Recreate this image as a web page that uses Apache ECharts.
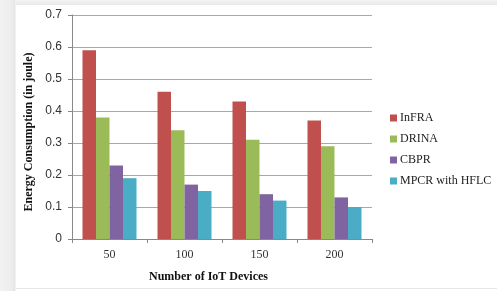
<!DOCTYPE html>
<html>
<head>
<meta charset="utf-8">
<script src="https://cdn.jsdelivr.net/npm/echarts@6/dist/echarts.min.js"></script>
<style>
  html, body { margin: 0; padding: 0; }
  body {
    width: 497px; height: 291px; overflow: hidden;
    background: linear-gradient(to right, #f2f2f2 0px, #ececec 12px, #e4e4e4 15px, #ffffff 16px);
    position: relative;
  }
  .frame {
    position: absolute; left: 16px; top: 5px; width: 481px; height: 283px;
    background: #fff; border-bottom: 1px solid #e6e6e6;
  }
  .frame::before {
    content: ''; position: absolute; left: 0; right: 0; top: -5px; height: 5px;
    background: linear-gradient(to bottom, #f4f4f4, #e8e8e8);
  }
  #chart { position: absolute; left: 0; top: 0; width: 497px; height: 291px; }
</style>
</head>
<body>
<div class="frame"></div>
<div id="chart"></div>
<script>
const categories = ['50', '100', '150', '200'];
const infra = [0.59, 0.46, 0.43, 0.37];
const drina = [0.38, 0.34, 0.31, 0.29];
const cbpr = [0.23, 0.17, 0.14, 0.13];
const mpcr = [0.19, 0.15, 0.12, 0.10];
const yTicks = [0, 0.1, 0.2, 0.3, 0.4, 0.5, 0.6, 0.7];

const serif = '"Liberation Serif", "DejaVu Serif", serif';
const sans = '"Liberation Sans", Arial, sans-serif';

const chart = echarts.init(document.getElementById('chart'));

function bar(name, data, color) {
  return {
    name: name,
    type: 'bar',
    data: data,
    barWidth: 13.5,
    barGap: '0%',
    itemStyle: {color: color},
  };
}

chart.setOption({
  animation: false,
  backgroundColor: 'transparent',
  grid: {left: 72, right: 125, top: 15, bottom: 52},
  legend: {
    orient: 'vertical',
    left: 390,
    top: 111,
    padding: 0,
    itemWidth: 7,
    itemHeight: 7,
    itemGap: 7,
    icon: 'rect',
    textStyle: {fontFamily: serif, fontSize: 12, lineHeight: 14, color: '#222', padding: [0, 0, 0, -2]},
    data: ['InFRA', 'DRINA', 'CBPR', 'MPCR with HFLC'],
  },
  xAxis: {
    type: 'category',
    data: categories,
    name: 'Number of IoT Devices',
    nameLocation: 'middle',
    nameGap: 32,
    nameTextStyle: {fontFamily: serif, fontSize: 12, fontWeight: 'bold', color: '#111', padding: [0, 27, 0, 0]},
    axisLine: {lineStyle: {color: '#888'}},
    axisTick: {show: true, length: 4, lineStyle: {color: '#888'}},
    axisLabel: {fontFamily: serif, fontSize: 12, color: '#333', margin: 10},
  },
  yAxis: {
    type: 'value',
    min: 0,
    max: 0.7,
    interval: 0.1,
    name: 'Energy Consumption (in joule)',
    nameLocation: 'middle',
    nameGap: 37,
    nameRotate: 90,
    nameTextStyle: {fontFamily: serif, fontSize: 12, fontWeight: 'bold', color: '#111', padding: [0, 10, 0, 0]},
    axisLine: {show: true, lineStyle: {color: '#888'}},
    axisTick: {show: true, length: 4, lineStyle: {color: '#888'}},
    splitLine: {lineStyle: {color: '#a8a8a8'}},
    axisLabel: {
      fontFamily: sans, fontSize: 12, color: '#333', margin: 10,
      formatter: v => yTicks.includes(Math.round(v * 10) / 10) ? String(Math.round(v * 10) / 10) : '',
    },
  },
  series: [
    bar('InFRA', infra, '#c0504d'),
    bar('DRINA', drina, '#9bbb59'),
    bar('CBPR', cbpr, '#8064a2'),
    bar('MPCR with HFLC', mpcr, '#4bacc6'),
  ],
});
</script>
</body>
</html>
